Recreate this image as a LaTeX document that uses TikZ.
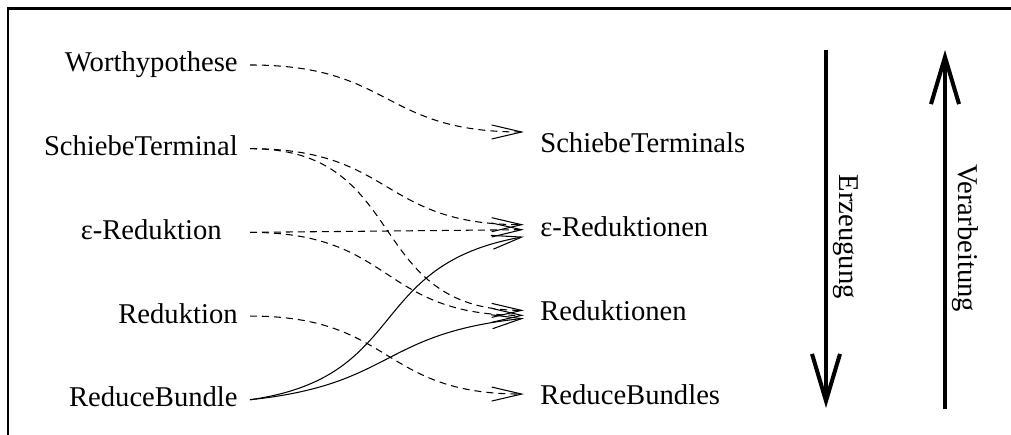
\documentclass[tikz,border=0pt]{standalone}
\usepackage{fontspec}
\setmainfont{Liberation Serif}
\usetikzlibrary{arrows.meta,positioning}

\begin{document}
\begin{tikzpicture}[x=0.02cm,y=0.02cm]
\tikzstyle{term}=[inner ysep=0pt, text height=0.4cm, text depth=0.12cm, font=\fontsize{16.3}{19}\selectfont, node distance=1.14cm]
\tikzstyle{srcterm}=[term, anchor=east, inner xsep=0.24cm]
\tikzstyle{dstterm}=[term, anchor=west, inner xsep=0.32cm]
\tikzstyle{dep}=[line width=0.6pt, dash pattern=on 0.14cm off 0.1cm, -{Straight Barb[length=0.6cm,width=0.28cm]}]
\tikzstyle{feed}=[line width=0.6pt, -{Straight Barb[length=0.6cm,width=0.28cm]}]
\tikzstyle{flow}=[line width=2.3pt, -{Straight Barb[length=0.94cm,width=0.56cm]}]
\tikzstyle{flowlabel}=[rotate=-90, anchor=south, inner sep=3pt, font=\fontsize{16.3}{19}\selectfont]
	\useasboundingbox (0,0) rectangle (1011,435);
	\draw[line width=1.7pt] (8,0) -- (8,426) -- (1011,426);
	% linke Spalte
	\node[srcterm] (wh) at (250,370) {Worthypothese};
	\node[srcterm] (st) [below=of wh.south east, anchor=north east] {SchiebeTerminal};
	\node[srcterm] (eps) [below=of st.south east, anchor=north east, xshift=-0.32cm] {ε-Reduktion};
	\node[srcterm] (red) [below=of eps.south east, anchor=north east, xshift=0.32cm] {Reduktion};
	\node[srcterm] (rb) [below=of red.south east, anchor=north east] {ReduceBundle};
	% rechte Spalte
	\node[dstterm] (sts) at (524,289) {SchiebeTerminals};
	\node[dstterm] (epss) [below=of sts.south west, anchor=north west] {ε-Reduktionen};
	\node[dstterm] (reds) [below=of epss.south west, anchor=north west] {Reduktionen};
	\node[dstterm] (rbs) [below=of reds.south west, anchor=north west] {ReduceBundles};
	\path (wh.east) edge [dep, out=0, in=180, looseness=1.3] ([yshift=0.28cm]sts.west);
	\path (st.east) edge [dep, out=0, in=180, looseness=1.3] ([yshift=0.1cm]epss.west);
	\path (st.east) edge [dep, out=0, in=180, looseness=1.3] ([yshift=0.06cm]reds.west);
	\path ([xshift=0.32cm]eps.east) edge [dep] (epss.west);
	\path ([xshift=0.32cm]eps.east) edge [dep, out=0, in=180, looseness=1.3] ([yshift=-0.04cm]reds.west);
	\path (red.east) edge [dep, out=0, in=180, looseness=1.3] ([yshift=0.06cm]rbs.west);
	\path (rb.east) edge [feed, out=8, in=190, looseness=1.3] ([yshift=-0.14cm]epss.west);
	\path (rb.east) edge [feed, out=6, in=186, looseness=1.3] ([yshift=-0.1cm]reds.west);
	% Erzeugung / Verarbeitung
	\coordinate (gtop) at (826,385);
	\coordinate (gbot) at (826,27);
	\draw[flow] (gtop) -- node[flowlabel, pos=0.522] {Erzeugung} (gbot);
	\coordinate (vbot) at (945,26);
	\coordinate (vtop) at (945,385);
	\draw[flow] (vbot) -- node[flowlabel, pos=0.476] {Verarbeitung} (vtop);
\end{tikzpicture}
\end{document}
